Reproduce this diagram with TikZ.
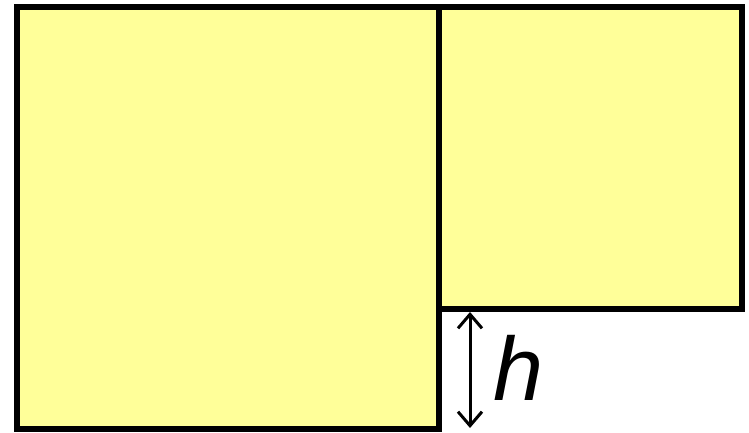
\documentclass[tikz,border=0pt]{standalone}
\usepackage{fontspec}
\setmainfont{Liberation Sans}
\usetikzlibrary{arrows.meta}
\definecolor{paleyellow}{RGB}{255,255,153}
\tikzset{
  sq/.style={draw=black, fill=paleyellow, line width=6pt, line join=miter},
  dim/.style={line width=3pt, {Straight Barb[length=14pt,width=24pt,line width=3pt]}-{Straight Barb[length=14pt,width=24pt,line width=3pt]}}
}
\begin{document}
\begin{tikzpicture}[x=1pt,y=1pt]
\useasboundingbox (0,0) rectangle (749,432);
\draw[sq] (17,3) rectangle (439,425);
\draw[sq] (439,123) rectangle (741.5,425);
\coordinate (top) at (470,120);
\coordinate (bot) at (470,4);
\draw[dim] (top) -- (bot);
\node[anchor=base west, inner sep=0pt, font=\fontsize{90}{94}\selectfont\itshape] (hlabel) at (493,32) {h};
\end{tikzpicture}
\end{document}
